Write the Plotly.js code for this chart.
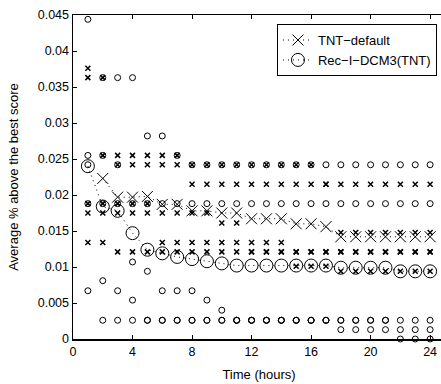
<!DOCTYPE html>
<html><head><meta charset="utf-8">
<script src="https://cdn.plot.ly/plotly-3.0.1.min.js"></script>
<style>html,body{margin:0;padding:0;overflow:hidden;background:#fff}</style>
</head><body><div id="chart"></div>
<script>
const hours = [1,2,3,4,5,6,7,8,9,10,11,12,13,14,15,16,17,18,19,20,21,22,23,24];

// TNT-default: individual runs (small x)
const tntRun1 = [0.0376,0.0363,0.0255,0.0255,0.0255,0.0255,0.0255,0.0242,0.0242,0.0242,0.0242,0.0242,0.0242,0.0242,0.0242,0.0242,0.0215,0.0215,0.0215,0.0215,0.0215,0.0215,0.0215,0.0215];
const tntRun2 = [0.0363,0.0255,0.0242,0.0242,0.0242,0.0242,0.0242,0.0215,0.0215,0.0215,0.0215,0.0215,0.0215,0.0215,0.0215,0.0215,0.0215,0.0148,0.0148,0.0148,0.0148,0.0148,0.0148,0.0148];
const tntRun3 = [0.0188,0.0188,0.0188,0.0188,0.0188,0.0175,0.0175,0.0175,0.0175,0.0161,0.0161,0.0134,0.0134,0.0134,0.0121,0.0121,0.0121,0.0121,0.0121,0.0121,0.0121,0.0121,0.0121,0.0121];
const tntRun4 = [0.0175,0.0175,0.0175,0.0175,0.0175,0.0134,0.0134,0.0134,0.0134,0.0134,0.0134,0.0121,0.0121,0.0121,0.0121,0.0121,0.0121,0.0121,0.0121,0.0121,0.0121,0.0121,0.0121,0.0121];
const tntRun5 = [0.0134,0.0134,0.0121,0.0121,0.0121,0.0121,0.0121,0.0121,0.0121,0.0121,0.0121,0.0121,0.0121,0.0121,0.0101,0.0101,0.0101,0.0094,0.0094,0.0094,0.0094,0.0094,0.0094,0.0094];
// TNT-default: average (large X)
const tntMean = [null,0.0223,0.0197,0.0197,0.0198,0.0187,0.0187,0.0178,0.0178,0.0175,0.0175,0.0167,0.0167,0.0167,0.0160,0.0160,0.0156,0.0142,0.0142,0.0142,0.0142,0.0142,0.0142,0.0142];

// Rec-I-DCM3(TNT): individual runs (small o)
const recRun1 = [0.0444,0.0363,0.0363,0.0363,0.0282,0.0282,0.0255,0.0242,0.0242,0.0242,0.0242,0.0242,0.0242,0.0242,0.0242,0.0242,0.0242,0.0242,0.0242,0.0242,0.0242,0.0242,0.0242,0.0242];
const recRun2 = [0.0255,0.0255,0.0242,0.0188,0.0188,0.0188,0.0188,0.0188,0.0188,0.0188,0.0188,0.0188,0.0188,0.0188,0.0188,0.0188,0.0188,0.0188,0.0188,0.0188,0.0188,0.0188,0.0188,0.0188];
const recRun3 = [0.0242,0.0188,0.0188,0.0107,0.0094,0.0067,0.0067,0.0067,0.0054,0.0040,0.0026,0.0026,0.0026,0.0026,0.0026,0.0026,0.0026,0.0026,0.0026,0.0026,0.0026,0.0026,0.0026,0.0026];
const recRun4 = [0.0188,0.0081,0.0067,0.0054,0.0026,0.0026,0.0026,0.0026,0.0026,0.0026,0.0026,0.0026,0.0026,0.0026,0.0026,0.0026,0.0026,0.0026,0.0026,0.0026,0.0026,0.0013,0.0013,0.0013];
const recRun5 = [0.0067,0.0026,0.0026,0.0026,0.0026,0.0026,0.0026,0.0026,0.0026,0.0026,0.0026,0.0026,0.0026,0.0026,0.0026,0.0026,0.0026,0.0013,0.0013,0.0013,0.0013,0,0,0];
// Rec-I-DCM3(TNT): average (large O)
const recMean = [0.0240,0.0184,0.0178,0.0147,0.0124,0.0119,0.0114,0.0111,0.0108,0.0105,0.0102,0.0102,0.0102,0.0102,0.0102,0.0102,0.0102,0.0099,0.0099,0.0099,0.0099,0.0094,0.0094,0.0094];

const xTicks = [0,4,8,12,16,20,24];
const yTicks = [0,0.005,0.01,0.015,0.02,0.025,0.03,0.035,0.04,0.045];
const yTickText = ['0','0.005','0.01','0.015','0.02','0.025','0.03','0.035','0.04','0.045'];
const names = ['TNT\u2212default','Rec\u2212I\u2212DCM3(TNT)'];

const FONT = 'Liberation Sans, Arial, Helvetica, sans-serif';
const traces = [];
[tntRun1,tntRun2,tntRun3,tntRun4,tntRun5].forEach(r => traces.push({
  x: hours, y: r, type:'scatter', mode:'markers', showlegend:false, cliponaxis:false, hoverinfo:'skip',
  marker:{symbol:'x-thin-open', size:5, color:'#000', line:{color:'#000', width:1.5}}
}));
[recRun1,recRun2,recRun3,recRun4,recRun5].forEach(r => traces.push({
  x: hours, y: r, type:'scatter', mode:'markers', showlegend:false, cliponaxis:false, hoverinfo:'skip',
  marker:{symbol:'circle-open', size:6, color:'#000', line:{color:'#000', width:1}}
}));
traces.push({
  x: hours, y: tntMean, name: names[0], type:'scatter', mode:'lines+markers', cliponaxis:false,
  line:{color:'#000', width:1, dash:'1px,4px'},
  marker:{symbol:'x-thin-open', size:11, color:'#000', line:{color:'#000', width:1}}
});
traces.push({
  x: hours, y: recMean, name: names[1], type:'scatter', mode:'lines+markers', cliponaxis:false,
  line:{color:'#000', width:1, dash:'1px,4px'},
  marker:{symbol:'circle-open', size:13, color:'#000', line:{color:'#000', width:1}}
});

const layout = {
  width: 445, height: 384,
  margin: {l:73, r:0, t:15, b:45, pad:0},
  paper_bgcolor:'#fff', plot_bgcolor:'#fff',
  font:{family:FONT, size:12.5, color:'#000'},
  showlegend:true,
  legend:{x:0.9784, xanchor:'right', y:0.972, yanchor:'top', bgcolor:'#fff', bordercolor:'#000', borderwidth:1,
          font:{family:FONT, size:13, color:'#000'}, tracegroupgap:0, itemwidth:30},
  xaxis:{range:[0,25], tickvals:xTicks, ticktext:xTicks.map(String), ticks:'inside', ticklen:4, tickcolor:'#000',
         showline:true, linecolor:'#000', linewidth:1.5, mirror:'ticks', showgrid:false, zeroline:false,
         tickfont:{family:FONT, size:12.5, color:'#000'},
         title:{text:'Time (hours)', font:{family:FONT, size:13, color:'#000'}, standoff:12}},
  yaxis:{range:[0,0.045], tickvals:yTicks, ticktext:yTickText, ticks:'inside', ticklen:4, tickcolor:'#000',
         showline:true, linecolor:'#000', linewidth:1.5, mirror:'ticks', showgrid:false, zeroline:false,
         tickfont:{family:FONT, size:12.5, color:'#000'},
         title:{text:'Average % above the best score', font:{family:FONT, size:13, color:'#000'}, standoff:16}}
};
Plotly.newPlot('chart', traces, layout, {displayModeBar:false, staticPlot:true});
</script></body></html>
